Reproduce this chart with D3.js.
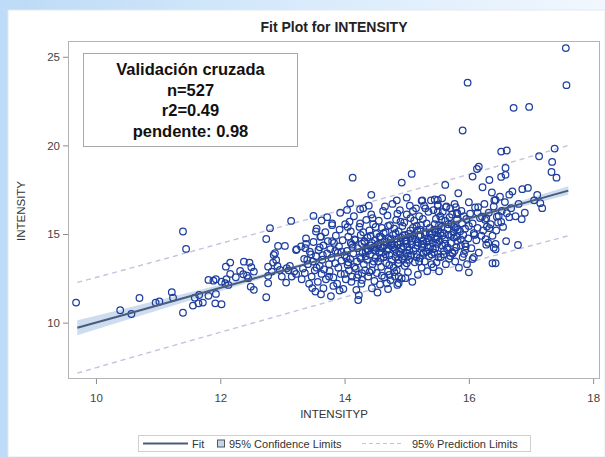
<!DOCTYPE html>
<html><head><meta charset="utf-8">
<script src="https://cdn.jsdelivr.net/npm/d3@7"></script>
<style>
html,body{margin:0;padding:0;}
body{width:605px;height:457px;overflow:hidden;background:#fff;}
svg{display:block;font-family:"Liberation Sans",Arial,sans-serif;}
</style></head><body>
<svg id="c" width="605" height="457"></svg>
<script>
const title = "Fit Plot for INTENSITY";
const xLabel = "INTENSITYP";
const yLabel = "INTENSITY";
const xTicks = [10, 12, 14, 16, 18];
const yTicks = [10, 15, 20, 25];
const annotation = ["Validación cruzada", "n=527", "r2=0.49", "pendente: 0.98"];
const legendItems = ["Fit", "95% Confidence Limits", "95% Prediction Limits"];

// fit line and limits, read at a few predicted values
const bandX    = [9.7, 10.5, 11.5, 12.5, 13.5, 14.5, 15.5, 16.5, 17.6];
const fitY     = [9.71, 10.49, 11.47, 12.45, 13.43, 14.41, 15.39, 16.37, 17.45];
const clmLower = [9.29, 10.16, 11.24, 12.31, 13.35, 14.35, 15.30, 16.22, 17.21];
const clmUpper = [10.13, 10.82, 11.70, 12.59, 13.51, 14.47, 15.48, 16.52, 17.69];
const plmLower = [7.15, 7.96, 8.96, 9.95, 10.94, 11.93, 12.91, 13.87, 14.90];
const plmUpper = [12.27, 13.02, 13.98, 14.95, 15.92, 16.89, 17.87, 18.87, 20.00];

// observations: [predicted, observed]
const sparsePoints = [
[9.68,11.13],[10.39,10.70],[10.57,10.49],[10.70,11.39],[10.96,11.13],[11.02,11.19],[11.22,11.72],[11.24,11.41],
[11.40,10.56],[11.40,15.14],[11.45,14.16],[11.56,10.96],[11.59,11.41],[11.65,11.09],[11.66,11.56],[11.72,11.13],
[11.81,12.41],[11.81,11.51],[11.89,12.37],[11.92,11.09],[11.93,11.62],[11.93,12.45],[12.02,11.04],[12.02,12.31],
[12.08,12.22],[12.10,12.45],[12.13,12.13],[12.09,13.16],[12.16,13.39],[12.16,12.75],[12.25,12.56],[12.32,12.92],
[12.37,12.73],[12.38,13.44],[12.43,12.65],[12.45,12.51],[12.47,13.39],[12.50,13.13],[12.49,12.03],[12.54,12.88],
[12.54,11.85],[12.74,11.43],[12.74,14.72],[12.77,12.22],[12.77,12.64],[12.77,13.16],[12.80,15.33],[12.83,12.88],
[12.85,13.39],[12.86,13.82],[12.88,13.92],[12.90,13.54],[12.92,13.20],[12.93,14.33],[12.96,12.97],[12.99,12.60],
[13.04,14.33],[13.06,12.26],[13.07,13.07],[13.10,12.95],[13.14,15.74],[13.19,12.88],[13.22,14.10],[13.12,13.20],
[13.15,12.60],[13.22,12.75],[13.23,14.14],[13.37,14.20],[13.38,14.44],[13.50,16.02],[13.63,15.76],[13.72,15.95],
[13.80,15.50],[13.54,15.14],[13.62,14.85],[13.53,11.75],[13.66,11.94],[13.82,12.07],[13.92,11.81],[14.22,11.28],
[14.44,11.94],[14.28,12.41],[14.12,12.60],[14.28,12.79],[14.72,12.69],[14.81,12.60],[14.68,12.22],[14.85,12.13],
[14.13,18.18],[14.43,17.21],[14.09,16.74],[14.04,16.36],[14.25,16.40],
[14.92,17.90],[15.08,18.39],[15.62,17.77],[15.83,17.30],[15.24,16.87],[15.50,16.92],[15.57,17.02],[16.00,16.79],
[16.15,16.51],[15.50,16.59],[15.63,16.51],[15.79,16.51],[15.81,16.13],[15.90,20.84],[15.98,23.54],[16.13,18.67],
[16.16,18.80],[16.06,18.24],[16.22,17.64],[16.33,18.05],[16.37,17.34],[16.41,16.89],[16.21,15.98],[16.26,15.80],
[16.33,15.33],[16.45,15.98],[16.09,14.95],[16.27,14.71],[16.31,14.51],[16.43,14.44],[16.40,14.23],[16.08,13.69],
[16.38,13.35],[15.94,14.44],[15.94,14.10],[15.92,13.88],[16.06,13.59],[16.00,12.84],[15.73,13.95],[15.70,13.76],
[15.50,13.88],[15.51,13.69],[15.43,13.13],[15.33,14.01],[15.27,13.88],[15.16,13.69],[14.87,13.35],[14.98,12.51],
[14.87,12.60],[14.87,12.22],[16.43,13.35],[16.43,14.14],[16.79,14.38],[16.72,22.12],[16.97,22.17],[17.56,25.49],
[17.57,23.40],[16.52,19.65],[16.61,19.71],[17.38,19.82],[17.13,19.39],[17.34,19.07],[17.33,18.50],[17.41,18.18],
[16.59,18.73],[16.59,18.34],[16.52,18.22],[16.65,17.22],[16.86,17.53],[16.43,16.92],[16.53,16.30],[16.61,16.17],
[16.68,16.46],[16.48,16.02],[16.52,15.68],[16.85,15.84],[17.15,16.74],[17.18,16.46],[16.28,15.89],[16.29,15.42],
[15.81,16.21],[16.14,16.21]
];
const densePoints = [
[13.31,12.45],[13.33,13.05],[13.35,13.6],[13.36,12.8],[13.38,14.75],[13.41,13.3],[13.43,12.2],[13.44,14.0],[13.46,13.85],[13.30,14.3],
[13.47,12.6],[13.49,13.45],[13.50,14.55],[13.52,12.95],[13.54,13.75],[13.55,15.3],[13.57,12.3],[13.58,14.1],[13.60,13.2],[13.48,11.95],
[13.61,14.85],[13.63,12.75],[13.64,13.55],[13.66,14.35],[13.67,13.0],[13.69,15.1],[13.70,12.45],[13.72,13.9],[13.73,14.6],[13.75,13.3],[13.62,11.6],
[13.76,12.9],[13.77,14.15],[13.79,13.65],[13.80,15.6],[13.82,12.55],[13.83,14.5],[13.85,13.35],[13.86,14.9],[13.88,12.2],[13.89,13.95],[13.78,11.5],[13.90,13.1],
[13.91,14.3],[13.92,15.25],[13.94,12.75],[13.95,13.5],[13.97,14.65],[13.98,11.9],[14.00,13.8],[14.01,15.55],[14.02,12.45],[14.04,14.05],[14.05,13.25],[13.93,16.2],
[14.06,14.85],[14.07,12.95],[14.09,13.6],[14.10,15.15],[14.11,12.3],[14.12,14.4],[14.14,13.9],[14.15,16.0],[14.16,13.15],[14.17,14.65],[14.19,11.85],[14.20,13.45],[14.08,15.7],
[14.21,14.2],[14.22,12.7],[14.24,15.4],[14.25,13.7],[14.26,14.95],[14.27,12.2],[14.29,13.95],[14.30,16.45],[14.31,13.3],[14.32,14.55],[14.33,12.95],[14.35,15.8],[14.23,11.55],[14.34,14.0],
[14.36,13.55],[14.37,14.8],[14.38,12.6],[14.40,15.2],[14.41,13.85],[14.42,14.35],[14.43,16.1],[14.44,12.95],[14.45,13.3],[14.46,15.55],[14.47,14.1],[14.48,12.35],[14.49,14.65],[14.50,13.65],[14.39,16.6],
[14.51,15.0],[14.52,12.8],[14.53,14.4],[14.54,13.45],[14.55,15.75],[14.56,13.95],[14.57,12.15],[14.58,14.85],[14.59,13.15],[14.60,15.35],[14.61,14.2],[14.62,16.3],[14.63,13.7],[14.64,12.55],[14.65,14.6],[14.53,11.7],
[14.66,15.1],[14.67,13.35],[14.68,14.05],[14.69,16.05],[14.70,12.9],[14.71,14.75],[14.72,13.8],[14.73,15.5],[14.74,12.4],[14.75,14.35],[14.76,13.55],[14.77,16.7],[14.78,14.95],[14.79,13.1],[14.80,15.3],[14.70,11.9],
[14.81,14.15],[14.82,13.7],[14.83,15.8],[14.84,12.95],[14.85,14.55],[14.86,13.35],[14.87,15.15],[14.88,14.0],[14.89,16.35],[14.90,13.85],[14.91,14.8],[14.92,12.5],[14.93,15.45],[14.94,13.6],[14.95,14.3],[14.84,16.9],
[14.96,15.65],[14.97,13.2],[14.98,14.6],[14.99,13.95],[15.00,16.1],[15.01,14.25],[15.02,12.85],[15.03,15.0],[15.04,13.55],[15.05,14.85],[15.06,15.9],[15.07,13.8],[15.08,14.4],[15.09,12.3],[15.10,15.35],[15.00,17.05],
[15.11,14.05],[15.12,15.75],[15.13,13.4],[15.14,14.7],[15.15,16.45],[15.16,13.85],[15.17,15.2],[15.18,12.7],[15.19,14.5],[15.20,16.0],[15.21,13.65],[15.22,14.95],[15.23,15.5],[15.24,13.1],[15.25,14.25],
[15.26,15.85],[15.27,14.45],[15.28,16.6],[15.29,13.45],[15.30,15.1],[15.31,14.0],[15.32,15.6],[15.33,12.9],[15.34,14.75],[15.35,16.25],[15.36,13.75],[15.37,15.35],[15.38,14.3],[15.39,16.9],[15.40,13.3],
[15.41,15.0],[15.42,14.5],[15.43,16.35],[15.44,13.95],[15.45,15.55],[15.46,14.2],[15.47,15.85],[15.48,13.4],[15.49,14.85],[15.50,16.65],[15.51,15.25],[15.52,12.9],[15.53,14.6],[15.54,16.0],[15.55,13.7],
[15.56,15.4],[15.57,14.35],[15.58,16.25],[15.59,13.85],[15.60,15.05],[15.61,14.7],[15.62,15.75],[15.63,13.3],[15.64,16.55],[15.65,14.15],[15.66,15.3],[15.67,14.95],[15.68,13.6],[15.69,15.95],
[15.71,14.5],[15.72,15.55],[15.73,16.1],[15.74,13.9],[15.75,15.1],[15.76,14.8],[15.77,16.7],[15.78,13.45],[15.79,15.35],[15.80,14.25],[15.81,15.8],[15.82,14.6],[15.84,13.1],
[15.86,15.15],[15.87,14.7],[15.88,16.3],[15.89,15.6],[15.90,13.7],[15.91,14.95],[15.92,16.0],[15.94,15.3],[15.95,14.3],[15.96,15.85],[15.97,13.3],[15.99,14.75],[16.00,15.45],
[16.02,16.15],[16.04,14.2],[16.06,15.6],[16.08,15.05],[16.10,16.5],[16.12,14.65],[16.14,15.35],[16.16,13.95],[16.18,15.9],[16.20,14.9],[16.23,15.2],[16.25,16.7],[16.28,14.4],
[16.32,16.2],[16.35,15.55],[16.38,14.9],[16.40,16.55],[16.44,15.2],[16.47,15.65],[16.50,17.1],[16.55,15.4],[16.58,16.8],[16.60,14.6],
[16.65,15.95],[16.70,17.4],[16.75,16.0],[16.80,16.7],[16.90,16.2],[16.95,17.6],[17.05,16.9],[17.10,17.2],
[13.95,14.0],[14.03,13.65],[14.13,14.25],[14.18,13.05],[14.28,14.45],[14.34,13.75],[14.42,14.9],[14.47,13.45],[14.52,14.2],[14.58,13.65],
[14.63,15.05],[14.68,14.55],[14.72,13.25],[14.78,14.25],[14.82,15.05],[14.87,13.55],[14.92,14.15],[14.97,14.95],[15.02,13.75],[15.07,14.6],
[15.12,14.95],[15.17,14.35],[15.22,15.25],[15.27,13.95],[15.32,14.55],[15.37,15.05],[15.42,14.15],[15.47,14.7],[15.52,15.5],[15.57,14.9],
[15.62,14.45],[15.67,15.55],[15.72,14.95],[15.77,14.05],[15.82,15.25],[15.87,14.35],[14.06,13.4],[14.26,13.6],[14.46,14.25],[14.66,13.85],
[14.86,14.4],[15.06,15.2],[15.26,14.6],[15.46,15.1],[15.66,14.25],[14.16,14.7],[14.36,14.15],[14.56,14.85],[14.76,14.5],[14.96,13.75],
[15.16,15.45],[15.36,14.6],[15.56,15.8],[15.76,15.4],[13.55,13.1],[13.65,13.8],[13.75,12.6],[13.85,14.05],[14.00,12.75],[14.20,12.55],
[14.40,12.85],[14.60,12.65],[14.80,12.85],[15.00,13.35],[15.20,13.45],[15.40,13.85],[15.60,14.05],[15.80,14.85],[14.10,14.5],[14.30,15.1],
[14.50,15.4],[14.70,15.45],[14.90,15.7],[15.10,16.3],[15.30,16.45],[15.50,16.25],[15.70,16.45],[13.40,13.55],[13.60,14.25],[13.80,14.6],
[14.05,15.4],[14.25,15.6],[14.45,15.9],[14.65,16.55],[14.85,16.15],[15.05,16.6],[15.25,16.9],[15.45,16.95],
[14.32,14.6],[14.38,14.05],[14.44,14.5],[14.50,14.05],[14.55,14.45],[14.60,13.95],[14.64,14.35],[14.70,14.15],[14.74,14.7],
[14.80,14.4],[14.84,13.95],[14.90,14.55],[14.94,14.9],[15.00,14.45],[15.04,14.1],[15.09,14.75],[15.14,14.2],[15.19,14.9],
[15.24,14.4],[15.29,15.0],[15.34,14.25],[15.39,14.8],[15.44,15.25],[15.49,14.45],[15.54,15.05],[14.58,14.3],[14.98,14.65]
];
const points = sparsePoints.concat(densePoints);

const svg = d3.select("#c");
const W = 605, H = 457;
const plot = {left: 68, right: 600, top: 41, bottom: 379};

// page background
const defs = svg.append("defs");
const g1 = defs.append("linearGradient").attr("id","bg").attr("x1","0").attr("x2","1").attr("y1","0").attr("y2","0");
g1.append("stop").attr("offset","0%").attr("stop-color","#bcdaf6");
g1.append("stop").attr("offset","45%").attr("stop-color","#d6e9fb");
g1.append("stop").attr("offset","100%").attr("stop-color","#f1f7fe");
svg.append("rect").attr("width",W).attr("height",H).attr("fill","url(#bg)");
svg.append("rect").attr("x",0).attr("y",0).attr("width",8).attr("height",H).attr("fill","#bedbf7");
svg.append("rect").attr("x",8).attr("y",10).attr("width",W-8).attr("height",H-10)
  .attr("fill","#ffffff").attr("stroke","#e3e9f0").attr("stroke-width",1);

const x = d3.scaleLinear().domain([9.55, 18.11]).range([plot.left, plot.right]);
const y = d3.scaleLinear().domain([6.82, 25.89]).range([plot.bottom, plot.top]);

// title
svg.append("text").attr("x",(plot.left+plot.right)/2).attr("y",32).attr("text-anchor","middle")
  .attr("font-size",14).attr("font-weight","bold").attr("fill","#222").text(title);

// frame
svg.append("rect").attr("x",plot.left+0.5).attr("y",plot.top+0.5)
  .attr("width",plot.right-plot.left-1).attr("height",plot.bottom-plot.top-1)
  .attr("fill","#fff").attr("stroke","#b4b4b4").attr("stroke-width",1);

const band = bandX.map((d,i)=>({x:d, f:fitY[i], cl:clmLower[i], cu:clmUpper[i], pl:plmLower[i], pu:plmUpper[i]}));

// confidence band
svg.append("path").datum(band)
  .attr("d", d3.area().x(d=>x(d.x)).y0(d=>y(d.cl)).y1(d=>y(d.cu)).curve(d3.curveMonotoneX))
  .attr("fill","#c4d6ec").attr("opacity",0.85);

// prediction limits
["pl","pu"].forEach(k=>{
  svg.append("path").datum(band)
    .attr("d", d3.line().x(d=>x(d.x)).y(d=>y(d[k])).curve(d3.curveMonotoneX))
    .attr("fill","none").attr("stroke","#c0c4dc").attr("stroke-width",1.4).attr("stroke-dasharray","5,4");
});

// observations
svg.append("g").selectAll("circle").data(points).join("circle")
  .attr("cx",d=>x(d[0])).attr("cy",d=>y(d[1])).attr("r",3.3)
  .attr("fill","none").attr("stroke","#1f3f9e").attr("stroke-width",1.25);

// fit
svg.append("path").datum(band)
  .attr("d", d3.line().x(d=>x(d.x)).y(d=>y(d.f)))
  .attr("fill","none").attr("stroke","#4a5c7b").attr("stroke-width",2);

// axes
const xAxis = svg.append("g").attr("transform",`translate(0,${plot.bottom})`)
  .call(d3.axisBottom(x).tickValues(xTicks).tickSize(5).tickPadding(10).tickFormat(d3.format("d")));
const yAxis = svg.append("g").attr("transform",`translate(${plot.left},0)`)
  .call(d3.axisLeft(y).tickValues(yTicks).tickSize(5).tickPadding(3).tickFormat(d3.format("d")));
[xAxis,yAxis].forEach(a=>{
  a.select(".domain").remove();
  a.selectAll(".tick line").attr("stroke","#8c8c8c");
  a.selectAll(".tick text").attr("fill","#444").attr("font-size",11.5).attr("font-family","'Liberation Sans',Arial,sans-serif");
});

svg.append("text").attr("x",(plot.left+plot.right)/2).attr("y",418).attr("text-anchor","middle")
  .attr("font-size",11.5).attr("fill","#333").text(xLabel);
svg.append("text").attr("transform",`translate(25,211) rotate(-90)`).attr("text-anchor","middle")
  .attr("font-size",11.5).attr("fill","#333").text(yLabel);

// annotation
svg.append("rect").attr("x",83.5).attr("y",53.5).attr("width",214).attr("height",93)
  .attr("fill","#fff").attr("stroke","#a8a8a8").attr("stroke-width",1);
svg.append("g").selectAll("text").data(annotation).join("text")
  .attr("x",190.5).attr("y",(d,i)=>75+i*20.7).attr("text-anchor","middle")
  .attr("font-size",16.5).attr("font-weight","bold").attr("fill","#111").text(d=>d);

// legend
const lg = svg.append("g");
lg.append("rect").attr("x",138.5).attr("y",435.5).attr("width",392).attr("height",16)
  .attr("fill","#fff").attr("stroke","#cfcfcf");
const ly = 443.5;
lg.append("line").attr("x1",143).attr("x2",188).attr("y1",ly).attr("y2",ly)
  .attr("stroke","#4a5c7b").attr("stroke-width",2);
lg.append("text").attr("x",192).attr("y",ly+4).attr("font-size",11).attr("fill","#333").text(legendItems[0]);
lg.append("rect").attr("x",217.5).attr("y",ly-3.5).attr("width",7).attr("height",7)
  .attr("fill","#c4d6ec").attr("stroke","#555").attr("stroke-width",1);
lg.append("text").attr("x",229).attr("y",ly+4).attr("font-size",11).attr("fill","#333").text(legendItems[1]);
lg.append("line").attr("x1",362).attr("x2",402).attr("y1",ly).attr("y2",ly)
  .attr("stroke","#c0c4dc").attr("stroke-width",1.2).attr("stroke-dasharray","4,3");
lg.append("text").attr("x",412).attr("y",ly+4).attr("font-size",11).attr("fill","#333").text(legendItems[2]);
</script>
</body></html>
